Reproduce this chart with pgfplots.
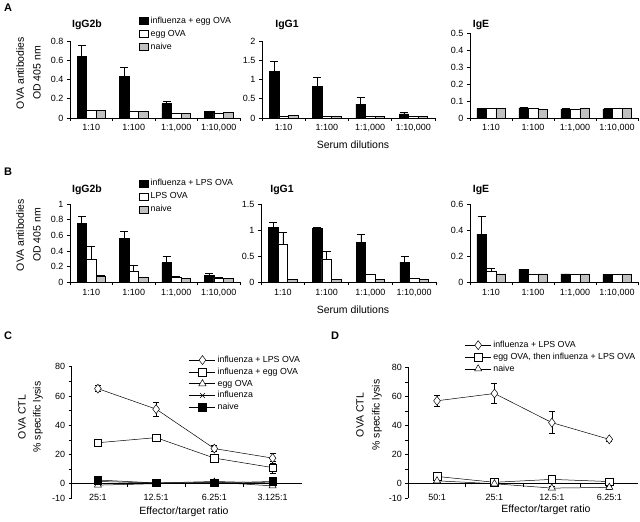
\documentclass[border=0pt]{standalone}
\usepackage{fontspec}
\setmainfont{Liberation Sans}
\usepackage{pgfplots}
\pgfplotsset{compat=1.18}
\definecolor{barGray}{RGB}{192,192,192}
\newcommand{\tl}{\fontsize{9}{10.5}\selectfont}
\newcommand{\lf}{\fontsize{8.8}{10}\selectfont}
\newcommand{\al}{\fontsize{10.5}{12}\selectfont}
\newcommand{\ttl}{\fontsize{10.5}{12}\selectfont\bfseries}
\pgfplotsset{
  base/.style={scale only axis, anchor=south west,
    axis line style={-, line width=0.6pt},
    every tick/.style={black, line width=0.6pt},
    major tick length=3pt, minor tick length=3pt,
    /pgf/number format/assume math mode=true,
    ticklabel style={font=\tl},
    yticklabel style={/pgf/number format/fixed},
    clip=false},
  barax/.style={base, axis x line*=bottom, axis y line*=left, tick align=outside,
    xmin=-0.5, xmax=3.5, ymin=0,
    xtick={0,1,2,3}, xticklabels={1:10,1:100,{1:1,000},{1:10,000}},
    major x tick style={draw=none}, minor xtick={-0.5,0.5,1.5,2.5,3.5},
    ybar, bar width=9.5pt,
    legend style={draw=none, fill=none, font=\lf, anchor=north west,
      at={(axis description cs:0.406,1.34)}, inner sep=0pt, row sep=1.2pt},
    legend cell align=left,
    legend image code/.code={\draw[##1] (0pt,-3.5pt) rectangle (9pt,3.5pt);}},
  errb/.style={/pgfplots/error bars/y dir=plus, /pgfplots/error bars/y explicit,
    /pgfplots/error bars/error bar style={black, line width=0.6pt},
    /pgfplots/error bars/error mark options={rotate=90, black, line width=0.6pt, mark size=4pt}},
  blk/.style={fill=black, draw=black, line width=0.5pt, bar shift=-9.5pt, errb},
  wht/.style={fill=white, draw=black, line width=0.5pt, bar shift=0pt, errb},
  gry/.style={fill=barGray, draw=black, line width=0.5pt, bar shift=9.5pt, errb},
  lineax/.style={base, axis y line*=left, axis x line*=middle, tick align=outside,
    ymin=-10, ymax=80, xmax=3.5,
    xtick={0,1,2,3}, major x tick style={draw=none},
    minor xtick={0.5,1.5,2.5},
    ytick={-10,0,20,40,60,80}, minor ytick={10,30,50,70},
    xticklabel style={yshift=-4pt},
    legend style={draw=none, fill=none, font=\lf, anchor=north west,
      inner sep=0pt, row sep=0pt},
    legend cell align=left,
    legend image code/.code={\draw[mark repeat=2,mark phase=2,##1] plot coordinates {(0pt,0pt) (13pt,0pt) (26pt,0pt)};}},
  lp/.style={black, line width=0.5pt, mark options={solid, line width=0.5pt},
    /pgfplots/error bars/y dir=both, /pgfplots/error bars/y explicit,
    /pgfplots/error bars/error bar style={black, line width=0.5pt},
    /pgfplots/error bars/error mark options={rotate=90, black, line width=0.5pt, mark size=3pt}},
}
\begin{document}
\begin{tikzpicture}[x=1pt,y=1pt]
\useasboundingbox (0,0) rectangle (640,522);

% ---------------- Panel A ----------------
\begin{axis}[barax, at={(70pt,404pt)}, width=170pt, height=77pt, ymax=0.8,
  ytick={0,0.2,0.4,0.6,0.8}]
\addplot[blk] coordinates {(0,0.64) +- (0,0.12) (1,0.43) +- (0,0.10) (2,0.15) +- (0,0.025) (3,0.065) +- (0,0.003)};
\addplot[wht] coordinates {(0,0.08) +- (0,0) (1,0.065) +- (0,0) (2,0.05) +- (0,0) (3,0.05) +- (0,0)};
\addplot[gry] coordinates {(0,0.08) +- (0,0) (1,0.065) +- (0,0) (2,0.05) +- (0,0) (3,0.055) +- (0,0.008)};
\legend{influenza + egg OVA, egg OVA, naive}
\end{axis}

\begin{axis}[barax, at={(262pt,404pt)}, width=173pt, height=77pt, ymax=2,
  ytick={0,0.5,1,1.5,2}]
\addplot[blk] coordinates {(0,1.21) +- (0,0.27) (1,0.82) +- (0,0.23) (2,0.36) +- (0,0.17) (3,0.11) +- (0,0.03)};
\addplot[wht] coordinates {(0,0.05) +- (0,0) (1,0.04) +- (0,0) (2,0.04) +- (0,0) (3,0.05) +- (0,0)};
\addplot[gry] coordinates {(0,0.06) +- (0,0.005) (1,0.04) +- (0,0) (2,0.04) +- (0,0) (3,0.05) +- (0,0)};
\end{axis}

\begin{axis}[barax, at={(470pt,404pt)}, width=168pt, height=85pt, ymax=0.5,
  ytick={0,0.1,0.2,0.3,0.4,0.5}]
\addplot[blk] coordinates {(0,0.055) +- (0,0) (1,0.06) +- (0,0.004) (2,0.052) +- (0,0.003) (3,0.052) +- (0,0.003)};
\addplot[wht] coordinates {(0,0.057) +- (0,0) (1,0.057) +- (0,0) (2,0.05) +- (0,0) (3,0.055) +- (0,0)};
\addplot[gry] coordinates {(0,0.057) +- (0,0) (1,0.052) +- (0,0) (2,0.057) +- (0,0) (3,0.057) +- (0,0)};
\end{axis}

% ---------------- Panel B ----------------
\begin{axis}[barax, at={(70pt,239.7pt)}, width=170pt, height=78.3pt, ymax=1,
  ytick={0,0.2,0.4,0.6,0.8,1}]
\addplot[blk] coordinates {(0,0.75) +- (0,0.09) (1,0.56) +- (0,0.09) (2,0.25) +- (0,0.08) (3,0.09) +- (0,0.02)};
\addplot[wht] coordinates {(0,0.30) +- (0,0.16) (1,0.14) +- (0,0.08) (2,0.065) +- (0,0.01) (3,0.055) +- (0,0.005)};
\addplot[gry] coordinates {(0,0.08) +- (0,0.005) (1,0.06) +- (0,0) (2,0.05) +- (0,0) (3,0.05) +- (0,0)};
\legend{influenza + LPS OVA, LPS OVA, naive}
\end{axis}

\begin{axis}[barax, at={(261pt,239.7pt)}, width=175pt, height=78pt, ymax=1.5,
  ytick={0,0.5,1,1.5}]
\addplot[blk] coordinates {(0,1.06) +- (0,0.09) (1,1.03) +- (0,0.03) (2,0.77) +- (0,0.16) (3,0.39) +- (0,0.11)};
\addplot[wht] coordinates {(0,0.74) +- (0,0.22) (1,0.45) +- (0,0.15) (2,0.15) +- (0,0.01) (3,0.07) +- (0,0)};
\addplot[gry] coordinates {(0,0.06) +- (0,0) (1,0.06) +- (0,0) (2,0.06) +- (0,0) (3,0.06) +- (0,0)};
\end{axis}

\begin{axis}[barax, at={(470pt,239.7pt)}, width=168pt, height=78pt, ymax=0.6,
  ytick={0,0.2,0.4,0.6}]
\addplot[blk] coordinates {(0,0.37) +- (0,0.14) (1,0.10) +- (0,0) (2,0.065) +- (0,0) (3,0.06) +- (0,0)};
\addplot[wht] coordinates {(0,0.085) +- (0,0.025) (1,0.065) +- (0,0) (2,0.065) +- (0,0) (3,0.065) +- (0,0)};
\addplot[gry] coordinates {(0,0.065) +- (0,0) (1,0.065) +- (0,0) (2,0.065) +- (0,0) (3,0.06) +- (0,0)};
\end{axis}

% ---------------- Panel C ----------------
\begin{axis}[lineax, at={(71.7pt,23.7pt)}, width=230pt, height=131.6pt, xmin=-0.45,
  xticklabels={25:1,12.5:1,6.25:1,3.125:1},
  legend style={at={(axis description cs:0.51,1.097)}}]
\addplot[lp, mark=diamond*, mark size=4.5pt, mark options={fill=white}] coordinates {(0,65) +- (0,2) (1,51) +- (0,5) (2,24) +- (0,2) (3,17.5) +- (0,3.5)};
\addplot[lp, mark=square*, mark size=3.8pt, mark options={fill=white}] coordinates {(0,28) +- (0,2.5) (1,31.5) +- (0,1.5) (2,17.5) +- (0,1) (3,11) +- (0,4)};
\addplot[lp, mark=triangle*, mark size=4.2pt, mark options={fill=white}] coordinates {(0,-1) +- (0,1) (1,0) +- (0,0.5) (2,1) +- (0,1) (3,-1.5) +- (0,1)};
\addplot[lp, mark=x, mark size=3.5pt] coordinates {(0,1.5) +- (0,0.5) (1,0.5) +- (0,0.5) (2,1.5) +- (0,1.5) (3,0.5) +- (0,0.5)};
\addplot[lp, mark=square*, mark size=3.8pt, mark options={fill=black}] coordinates {(0,2.5) +- (0,1) (1,0.5) +- (0,0.5) (2,0.5) +- (0,0.5) (3,1.5) +- (0,1)};
\legend{influenza + LPS OVA, influenza + egg OVA, egg OVA, influenza, naive}
\end{axis}

% ---------------- Panel D ----------------
\begin{axis}[lineax, at={(408.3pt,23.7pt)}, width=229.7pt, height=131pt, xmin=-0.5,
  xticklabels={50:1,25:1,12.5:1,6.25:1},
  legend style={at={(axis description cs:0.2455,1.216)}}]
\addplot[lp, mark=diamond*, mark size=4.5pt, mark options={fill=white}] coordinates {(0,57) +- (0,4) (1,62) +- (0,7) (2,42) +- (0,7.5) (3,30.5) +- (0,1)};
\addplot[lp, mark=square*, mark size=3.8pt, mark options={fill=white}] coordinates {(0,5) +- (0,1) (1,1) +- (0,1) (2,3) +- (0,1) (3,1.5) +- (0,0.5)};
\addplot[lp, mark=triangle*, mark size=4.2pt, mark options={fill=white}] coordinates {(0,2) +- (0,0.5) (1,0) +- (0,1) (2,-3) +- (0,1) (3,-2.5) +- (0,1)};
\legend{influenza + LPS OVA, {egg OVA, then influenza + LPS OVA}, naive}
\end{axis}

% ---------------- Text ----------------
\node[font=\fontsize{11}{13}\selectfont\bfseries] at (8,514.5) {A};
\node[font=\fontsize{11}{13}\selectfont\bfseries] at (8,350) {B};
\node[font=\fontsize{11}{13}\selectfont\bfseries] at (8,186) {C};
\node[font=\fontsize{11}{13}\selectfont\bfseries] at (335,186) {D};

\node[font=\ttl] at (87,497) {IgG2b};
\node[font=\ttl] at (287,497) {IgG1};
\node[font=\ttl] at (481,497) {IgE};
\node[font=\ttl] at (87,332) {IgG2b};
\node[font=\ttl] at (282,332) {IgG1};
\node[font=\ttl] at (481,332) {IgE};

\node[font=\al, rotate=90] at (20,449) {OVA antibodies};
\node[font=\al, rotate=90] at (37,449) {OD 405 nm};
\node[font=\al, rotate=90] at (20,287) {OVA antibodies};
\node[font=\al, rotate=90] at (37,287) {OD 405 nm};
\node[font=\al, rotate=90] at (22,105) {OVA CTL};
\node[font=\al, rotate=90] at (38,105) {\% specific lysis};
\node[font=\al, rotate=90] at (360,107) {OVA CTL};
\node[font=\al, rotate=90] at (377,107) {\% specific lysis};

\node[font=\al] at (353,377) {Serum dilutions};
\node[font=\al] at (353,212) {Serum dilutions};
\node[font=\al] at (184,10.3) {Effector/target ratio};
\node[font=\al] at (546,12) {Effector/target ratio};
\end{tikzpicture}
\end{document}
